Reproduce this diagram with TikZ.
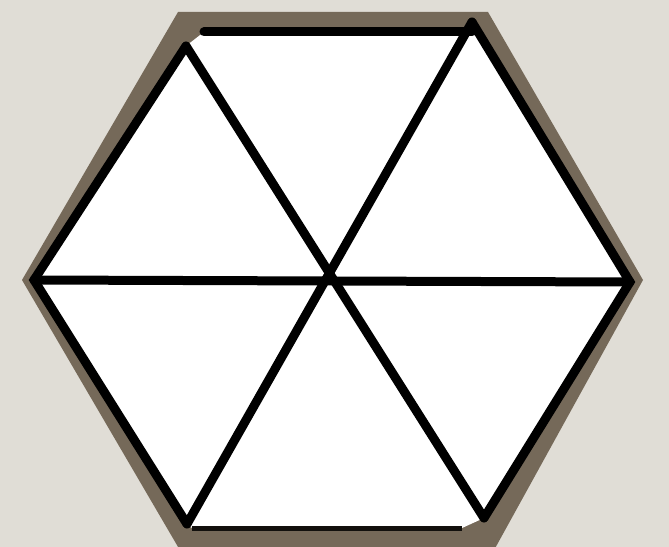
\documentclass[tikz,border=0pt]{standalone}
\usepackage{tikz}

\definecolor{bgcol}{HTML}{E0DDD6}
\definecolor{rimcol}{HTML}{756959}

\begin{document}
\begin{tikzpicture}[x=1bp,y=-1bp]
  \tikzstyle{rim}=[fill=rimcol]
  \tikzstyle{spoke}=[draw=black,line width=9bp,line cap=round]

  % Background
  \fill[bgcol] (0,0) rectangle (669,547);
  \useasboundingbox (0,0) rectangle (669,547);

  % Outer hexagon
  \coordinate (otl) at (178,12);
  \coordinate (otr) at (488,12);
  \coordinate (or) at (643,280);
  \coordinate (obr) at (493,552);
  \coordinate (obl) at (181,552);
  \coordinate (ol) at (22,280);
  \fill[rim] (otl) -- (otr) -- (or) -- (obr) -- (obl) -- (ol) -- cycle;

  % Inner corners
  \coordinate (tl) at (186,46);
  \coordinate (tr) at (472,22);
  \coordinate (r) at (630,282);
  \coordinate (br) at (484,518);
  \coordinate (bl) at (187,524);
  \coordinate (l) at (34,280);
  \coordinate (tla) at (204,32);
  \coordinate (tra) at (472,32);
  \coordinate (bla) at (192,528);
  \coordinate (bra) at (462,528);
  \fill[white] (tla) -- (tra) -- (tr) -- (r) -- (br) -- (bra) -- (bla) -- (bl) -- (l) -- (tl) -- cycle;

  % Edges
  \draw[spoke] (tla) -- (tra);
  \draw[spoke] (tr) -- (r) -- (br);
  \draw[spoke] (tl) -- (l) -- (bl);
  \draw[draw=black!85!rimcol,line width=5bp] (bla) -- (bra);

  % Spokes
  \draw[spoke] (l) -- (r);
  \draw[spoke] (tl) -- (br);
  \draw[spoke] (tr) -- (bl);
\end{tikzpicture}
\end{document}
